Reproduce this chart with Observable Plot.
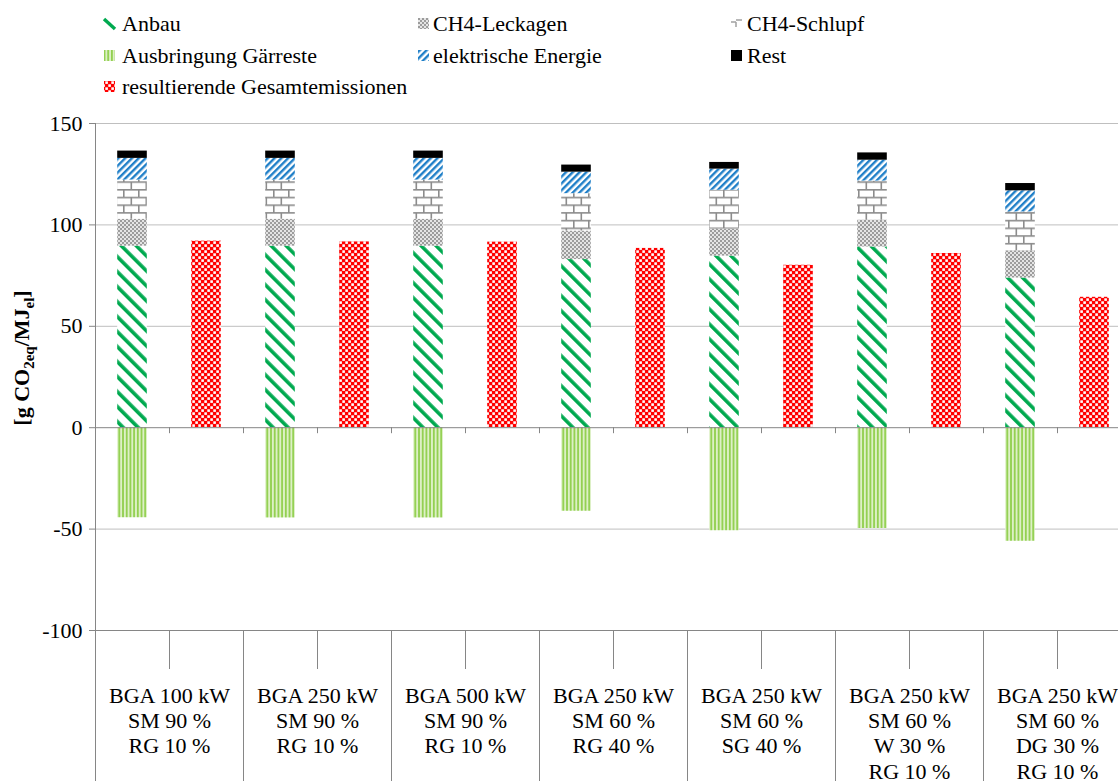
<!DOCTYPE html>
<html>
<head>
<meta charset="utf-8">
<script src="https://cdn.jsdelivr.net/npm/d3@7"></script>
<script src="https://cdn.jsdelivr.net/npm/@observablehq/plot@0.6"></script>
<style>
  html, body { margin: 0; padding: 0; background: #fff; }
  #legend { display: block; }
  #chart svg { display: block; }
</style>
</head>
<body>
<div id="legend"></div>
<div id="chart"></div>
<script>
// ---------- data ----------
const groups = [
  "BGA 100 kW\nSM 90 %\nRG 10 %",
  "BGA 250 kW\nSM 90 %\nRG 10 %",
  "BGA 500 kW\nSM 90 %\nRG 10 %",
  "BGA 250 kW\nSM 60 %\nRG 40 %",
  "BGA 250 kW\nSM 60 %\nSG 40 %",
  "BGA 250 kW\nSM 60 %\nW 30 %\nRG 10 %",
  "BGA 250 kW\nSM 60 %\nDG 30 %\nRG 10 %"
];
const seriesNames = [
  "Anbau", "CH4-Leckagen", "CH4-Schlupf",
  "Ausbringung Gärreste", "elektrische Energie", "Rest",
  "resultierende Gesamtemissionen"
];
const anbau       = [89.5, 89.5, 89.5, 82.9, 84.6, 89.1, 73.8];
const ausbringung = [-44.4, -44.5, -44.5, -41.2, -50.8, -49.7, -56.0];
const leckagen    = [13.3, 13.3, 13.3, 14.1, 13.3, 13.2, 13.4];
const schlupf     = [19.3, 19.3, 19.3, 18.4, 19.2, 19.3, 19.2];
const elektrisch  = [10.7, 10.7, 10.7, 10.6, 10.4, 10.3, 10.4];
const rest        = [3.6, 3.6, 3.6, 3.5, 3.3, 3.6, 3.6];
const gesamt      = [92.0, 91.6, 91.5, 88.4, 80.1, 85.9, 64.3];
const yTicks = [-100, -50, 0, 50, 100, 150];
const gridValues = [-50, 50, 100, 150];

// ---------- patterns ----------
const patternIds = ["p-anbau", "p-leck", "p-schlupf", "p-ausbr", "p-elek", "p-rest", "p-ges"];
const patternUrls = patternIds.map(id => `url(#${id})`);

const FONT = "'Liberation Serif', 'Times New Roman', serif";

// legend svg (also holds the pattern defs)
const legend = d3.select("#legend").append("svg")
  .attr("width", 1118).attr("height", 112)
  .style("display", "block");
const defs = legend.append("defs");

function pat(id, w, h, transform) {
  const p = defs.append("pattern").attr("id", id)
    .attr("patternUnits", "userSpaceOnUse")
    .attr("width", w).attr("height", h);
  if (transform) p.attr("patternTransform", transform);
  return p;
}
// Anbau: green "\" stripes
{ const p = pat("p-anbau", 10.6, 10.6, "rotate(-45)");
  p.append("rect").attr("width", 10.6).attr("height", 10.6).attr("fill", "#fff");
  p.append("rect").attr("width", 3.6).attr("height", 10.6).attr("fill", "#00A94F"); }
// CH4-Leckagen: fine gray checker
{ const p = pat("p-leck", 4, 4);
  p.append("rect").attr("width", 4).attr("height", 4).attr("fill", "#E4E4E4");
  p.append("rect").attr("width", 2).attr("height", 2).attr("fill", "#9C9C9C");
  p.append("rect").attr("x", 2).attr("y", 2).attr("width", 2).attr("height", 2).attr("fill", "#9C9C9C"); }
// CH4-Schlupf: brick
{ const p = pat("p-schlupf", 15, 15.4);
  p.append("rect").attr("width", 15).attr("height", 15.4).attr("fill", "#fff");
  const g = p.append("g").attr("stroke", "#8C8C8C").attr("stroke-width", 1.6).attr("fill", "none");
  g.append("line").attr("x1", 0).attr("x2", 15).attr("y1", 0.8).attr("y2", 0.8);
  g.append("line").attr("x1", 0).attr("x2", 15).attr("y1", 8.5).attr("y2", 8.5);
  g.append("line").attr("x1", 3.8).attr("x2", 3.8).attr("y1", 0).attr("y2", 8.5);
  g.append("line").attr("x1", 11.3).attr("x2", 11.3).attr("y1", 8.5).attr("y2", 15.4); }
// Ausbringung Gärreste: light green vertical stripes
{ const p = pat("p-ausbr", 3.7, 4);
  p.append("rect").attr("width", 3.7).attr("height", 4).attr("fill", "#DDF0C6");
  p.append("rect").attr("width", 1.8).attr("height", 4).attr("fill", "#92D050"); }
// elektrische Energie: blue "/" stripes
{ const p = pat("p-elek", 4.8, 4.8, "rotate(45)");
  p.append("rect").attr("width", 4.8).attr("height", 4.8).attr("fill", "#fff");
  p.append("rect").attr("width", 2.4).attr("height", 4.8).attr("fill", "#1F7FC8"); }
// Rest: black
{ const p = pat("p-rest", 4, 4);
  p.append("rect").attr("width", 4).attr("height", 4).attr("fill", "#000"); }
// resultierende Gesamtemissionen: red checker
{ const p = pat("p-ges", 6, 6);
  p.append("rect").attr("width", 6).attr("height", 6).attr("fill", "#FF0000");
  p.append("rect").attr("x", 0.3).attr("y", 0.3).attr("width", 2.6).attr("height", 2.6).attr("fill", "#fff");
  p.append("rect").attr("x", 3.3).attr("y", 3.3).attr("width", 2.6).attr("height", 2.6).attr("fill", "#fff"); }

// ---------- legend ----------
const legendItems = [
  {name: seriesNames[0], col: 0, row: 0},
  {name: seriesNames[1], col: 1, row: 0},
  {name: seriesNames[2], col: 2, row: 0},
  {name: seriesNames[3], col: 0, row: 1},
  {name: seriesNames[4], col: 1, row: 1},
  {name: seriesNames[5], col: 2, row: 1},
  {name: seriesNames[6], col: 0, row: 2}
];
const colMarkerX = [104, 418, 731];
const colTextX = [122, 433, 747];
const rowBase = [31, 63, 94];
legendItems.forEach(it => {
  const idx = seriesNames.indexOf(it.name);
  const mx = colMarkerX[it.col], by = rowBase[it.row];
  if (idx === 0) {
    legend.append("line").attr("x1", mx).attr("y1", by - 12).attr("x2", mx + 11).attr("y2", by - 2)
      .attr("stroke", "#00A94F").attr("stroke-width", 3.4);
  } else if (idx === 2) {
    const g = legend.append("g").attr("stroke", "#A0A0A0").attr("stroke-width", 1.5).attr("fill", "none");
    g.append("line").attr("x1", mx).attr("x2", mx + 5).attr("y1", by - 9).attr("y2", by - 9);
    g.append("line").attr("x1", mx + 5).attr("x2", mx + 5).attr("y1", by - 9).attr("y2", by - 4);
    g.append("line").attr("x1", mx + 5).attr("x2", mx + 11).attr("y1", by - 11).attr("y2", by - 11);
  } else {
    legend.append("rect").attr("x", mx).attr("y", by - 13).attr("width", 11).attr("height", 11)
      .attr("fill", patternUrls[idx]);
  }
  legend.append("text").attr("x", colTextX[it.col]).attr("y", by)
    .attr("font-family", FONT).attr("font-size", 22).attr("fill", "#000")
    .text(it.name);
});

// ---------- chart rows ----------
const BAR_PAD = 0.3;
const rows = [];
groups.forEach((g, i) => {
  const s = 2 * i;
  const parts = [
    [seriesNames[0], anbau[i]],
    [seriesNames[3], ausbringung[i]],
    [seriesNames[1], leckagen[i]],
    [seriesNames[2], schlupf[i]],
    [seriesNames[4], elektrisch[i]],
    [seriesNames[5], rest[i]]
  ];
  parts.forEach(([series, value]) => rows.push({slot: s, x1: s + BAR_PAD, x2: s + 1 - BAR_PAD, series, value}));
  rows.push({slot: s + 1, x1: s + 1 + BAR_PAD, x2: s + 2 - BAR_PAD, series: seriesNames[6], value: gesamt[i]});
});
const slotEdges = d3.range(0, groups.length * 2 + 1);
const groupEdges = slotEdges.filter(d => d > 0 && d % 2 === 0);
const innerEdges = slotEdges.filter(d => d % 2 === 1);
const AX = "#868686";

const chart = Plot.plot({
  width: 1118,
  height: 669,
  marginTop: 11,
  marginBottom: 0,
  marginLeft: 95,
  marginRight: 0,
  x: {domain: [0, groups.length * 2], range: [95, 1131], axis: null},
  y: {domain: [-100, 150], range: [518, 11], axis: null},
  color: {domain: seriesNames, range: patternUrls},
  style: {fontFamily: FONT, fontSize: "22px", background: "#fff", color: "#000"},
  marks: [
    Plot.ruleY(gridValues, {stroke: "#BFBFBF", strokeWidth: 1}),
    Plot.ruleY([-100], {stroke: AX}),
    Plot.ruleX(groupEdges, {y1: -100, y2: -100, insetBottom: -151, stroke: AX}),
    Plot.ruleX(innerEdges, {y1: -100, y2: -100, insetBottom: -39, stroke: AX}),
    Plot.rectY(rows, {x1: "x1", x2: "x2", y: "value", fill: "series"}),
    Plot.ruleY([0], {stroke: AX}),
    Plot.ruleX(slotEdges, {y1: 0, y2: 0, insetBottom: -6, stroke: AX}),
    Plot.ruleX([0], {stroke: AX}),
    Plot.axisY(yTicks, {
      anchor: "left", tickSize: 6, tickPadding: 7, label: null,
      tickFormat: d => String(d), stroke: AX, fill: "#000",
      fontSize: 22, fontFamily: FONT
    }),
    Plot.text(groups, {
      x: (d, i) => 2 * i + 1, y: -100, dy: 55,
      text: d => d, lineAnchor: "top", lineHeight: 1.14,
      fontSize: 22, fontFamily: FONT, fill: "#000"
    })
  ]
});
document.getElementById("chart").appendChild(chart);

// y-axis title with subscripts
const svg = d3.select(chart);
const t = svg.append("text")
  .attr("transform", "translate(29,246) rotate(-90)")
  .attr("text-anchor", "middle")
  .attr("font-family", FONT).attr("font-size", 22).attr("font-weight", "bold").attr("fill", "#000");
t.append("tspan").text("[g CO");
t.append("tspan").attr("font-size", 15).attr("dy", 5).text("2eq");
t.append("tspan").attr("dy", -5).text("/MJ");
t.append("tspan").attr("font-size", 15).attr("dy", 5).text("el");
t.append("tspan").attr("dy", -5).text("]");
</script>
</body>
</html>
